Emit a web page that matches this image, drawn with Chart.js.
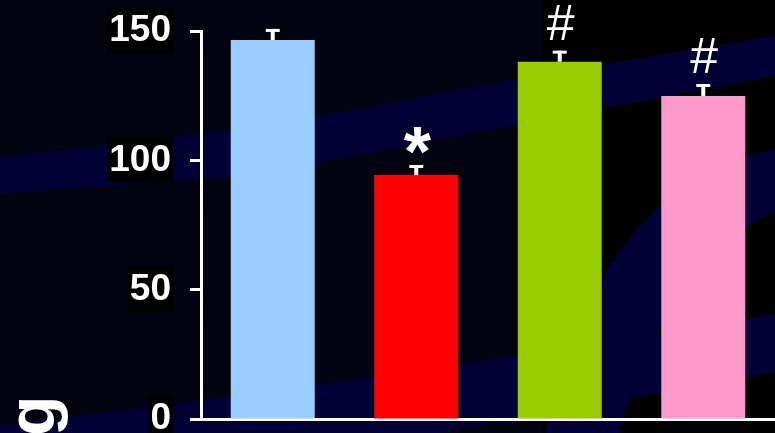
<!DOCTYPE html>
<html>
<head>
<meta charset="utf-8">
<script src="https://cdn.jsdelivr.net/npm/chart.js@4"></script>
<style>
  html, body { margin: 0; padding: 0; background: #000; }
  canvas { display: block; }
</style>
</head>
<body>
<canvas id="barChart" width="775" height="433"></canvas>
<script>
// values
const groups = ['Group 1', 'Group 2', 'Group 3', 'Group 4'];
const values = [146.5, 94.3, 138.1, 124.9];
const errors = [4.3, 3.9, 4.3, 4.6];
const marks = ['', '*', '#', '#'];
const barColors = ['#99ccff', '#ff0000', '#99cc00', '#ff99cc'];
const yTicks = [0, 50, 100, 150];
const axisTitle = 'g';

const FONT = "'Liberation Sans', Arial, sans-serif";

// dark slide background with the navy swooshes
const slideBackground = {
   id: 'slideBackground',
   beforeDraw(chart) {
      const ctx = chart.ctx;
      const w = chart.width, h = chart.height;
      ctx.save();
      ctx.fillStyle = '#03030f';
      ctx.fillRect(0, 0, 543, h);
      ctx.fillStyle = '#000000';
      ctx.fillRect(543, 0, w - 543, h);

      ctx.fillStyle = '#000035';
      // upper band
      ctx.beginPath();
      ctx.moveTo(0, 157);
      ctx.lineTo(240, 129);
      ctx.lineTo(350, 110);
      ctx.lineTo(500, 82);
      ctx.lineTo(775, 36);
      ctx.lineTo(775, 76);
      ctx.lineTo(500, 128);
      ctx.lineTo(350, 157);
      ctx.lineTo(240, 177);
      ctx.lineTo(0, 194);
      ctx.closePath();
      ctx.fill();

      // lower band
      ctx.beginPath();
      ctx.moveTo(0, 425);
      ctx.lineTo(190, 402);
      ctx.lineTo(330, 383);
      ctx.lineTo(655, 335);
      ctx.lineTo(775, 314);
      ctx.lineTo(775, 372);
      ctx.lineTo(620, 400);
      ctx.lineTo(437, 433);
      ctx.lineTo(0, 433);
      ctx.closePath();
      ctx.fill();

      // arc on the right
      ctx.beginPath();
      ctx.moveTo(775, 150);
      ctx.bezierCurveTo(715, 158, 645, 200, 600, 282);
      ctx.bezierCurveTo(575, 335, 555, 390, 545, 433);
      ctx.lineTo(620, 433);
      ctx.bezierCurveTo(630, 395, 645, 355, 660, 328);
      ctx.bezierCurveTo(690, 275, 730, 228, 775, 212);
      ctx.closePath();
      ctx.fill();
      ctx.restore();
   }
};

// error bars, significance marks and the clipped axis title
const errorBars = {
   id: 'errorBars',
   afterDatasetsDraw(chart) {
      const ctx = chart.ctx;
      const y = chart.scales.y;
      const meta = chart.getDatasetMeta(0);
      ctx.save();
      ctx.strokeStyle = '#ffffff';
      ctx.fillStyle = '#ffffff';
      meta.data.forEach((bar, i) => {
         const top = y.getPixelForValue(values[i] + errors[i]);
         ctx.lineWidth = 4;
         ctx.beginPath();
         ctx.moveTo(bar.x, bar.y);
         ctx.lineTo(bar.x, top);
         ctx.stroke();
         ctx.lineWidth = 3;
         ctx.beginPath();
         ctx.moveTo(bar.x - 7, top + 1.5);
         ctx.lineTo(bar.x + 7, top + 1.5);
         ctx.stroke();

         if (marks[i]) {
            ctx.font = marks[i] === '*' ? 'bold 70px ' + FONT : '50px ' + FONT;
            ctx.textAlign = 'center';
            ctx.textBaseline = 'alphabetic';
            const m = ctx.measureText(marks[i]);
            ctx.fillText(marks[i], bar.x + 1, top - 11 - m.actualBoundingBoxDescent);
         }
      });

      ctx.font = 'bold 66px ' + FONT;
      ctx.textAlign = 'left';
      ctx.textBaseline = 'alphabetic';
      const g = ctx.measureText(axisTitle);
      ctx.translate(54, 400 + g.actualBoundingBoxRight);
      ctx.rotate(-Math.PI / 2);
      ctx.fillText(axisTitle, 0, 0);
      ctx.restore();
   }
};

new Chart(document.getElementById('barChart'), {
   type: 'bar',
   data: {
      labels: groups,
      datasets: [{
         data: values,
         backgroundColor: barColors,
         borderWidth: 0,
         categoryPercentage: 1,
         barPercentage: 0.585
      }]
   },
   options: {
      responsive: false,
      animation: false,
      layout: { padding: { top: 31, left: 0, right: 0, bottom: 0 } },
      scales: {
         x: {
            grid: { display: false },
            ticks: { display: false },
            border: { display: true, color: '#ffffff', width: 3 },
            afterFit: s => { s.height = 14; }
         },
         y: {
            min: 0,
            max: 150,
            afterBuildTicks: s => { s.ticks = yTicks.map(v => ({ value: v })); },
            grid: {
               display: true,
               drawOnChartArea: false,
               drawTicks: true,
               tickLength: 11,
               tickWidth: 3,
               tickColor: '#ffffff'
            },
            border: { display: true, color: '#ffffff', width: 3 },
            ticks: {
               color: '#ffffff',
               font: { family: FONT, size: 37, weight: 'bold' },
               padding: 19,
               showLabelBackdrop: true,
               backdropColor: '#000000',
               backdropPadding: { left: 2, right: 2, top: 1, bottom: 0 }
            },
            afterFit: s => {
               s.width = 201;
               s.paddingTop = 0;
               s.paddingBottom = 0;
            }
         }
      },
      plugins: {
         legend: { display: false },
         tooltip: { enabled: false }
      }
   },
   plugins: [slideBackground, errorBars]
});
</script>
</body>
</html>
